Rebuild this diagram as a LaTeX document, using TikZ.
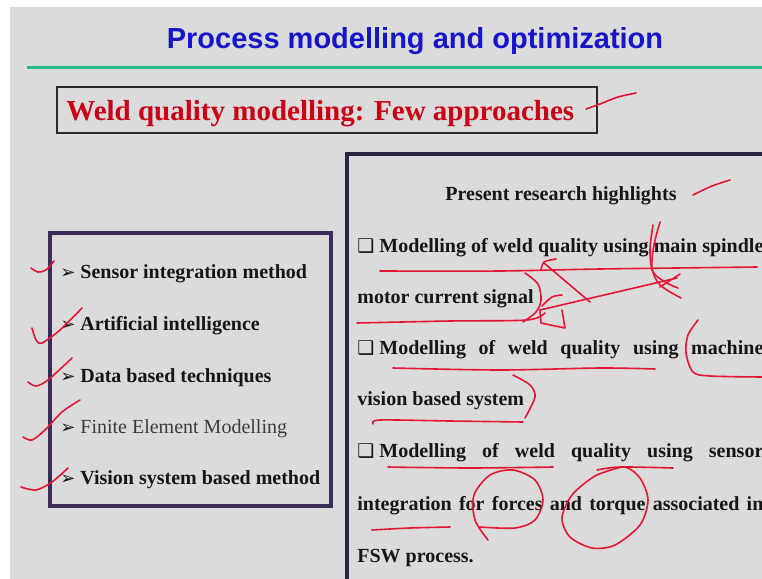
\documentclass[tikz,border=0pt]{standalone}
\usepackage{fontspec}
\setmainfont{Liberation Serif}
\newfontfamily\headfont{Liberation Sans}
\newfontfamily\glyphfont{DejaVu Sans}
\definecolor{slide}{RGB}{219,219,219}
\definecolor{hblue}{RGB}{22,22,200}
\definecolor{rule}{RGB}{40,186,132}
\definecolor{wred}{RGB}{200,0,22}
\definecolor{ink}{RGB}{22,22,22}
\definecolor{soft}{RGB}{60,60,60}
\definecolor{plum}{RGB}{58,44,88}
\definecolor{dplum}{RGB}{42,34,62}
\definecolor{pen}{RGB}{228,22,52}
\newcommand{\fHead}{\fontsize{14.5}{17}\selectfont}
\newcommand{\fBody}{\fontsize{10}{12}\selectfont}
\newcommand{\arr}{{\glyphfont\fontsize{9}{9}\selectfont ➢}}
\newcommand{\sq}{{\glyphfont\fontsize{9.5}{9.5}\selectfont ❑}}

\begin{document}
\begin{tikzpicture}[x=0.5pt,y=-0.5pt,
  txt/.style={anchor=base west,inner sep=0pt,font=\fBody\bfseries,text=ink},
  pen/.style={draw=pen,line width=0.8pt,line cap=round,line join=round}]
  \clip (0,0) rectangle (762,579);
  \fill[white] (0,0) rectangle (762,579);
  \fill[slide] (10,7) rectangle (762,579);
  % heading
  \node[anchor=base,inner sep=0pt,font=\headfont\fHead\bfseries,text=hblue] (title) at (415,48) {Process modelling and optimization};
  \draw[rule,line width=1.5pt] (27,67) -- (762,67);
  \draw[soft!70!black,line width=1.2pt] (57,87) rectangle (597,133);
  \node[anchor=base west,inner sep=0pt,font=\fHead\bfseries,text=wred] (weld) at (66,120) {Weld quality modelling: Few approaches};
  % left list
  \draw[plum,line width=1.7pt] (50,233) rectangle (331,506);
  \node[txt] (a1) at (60,278) {\arr};
  \node[txt] (s1) at (80,278) {Sensor integration method};
  \node[txt] (a2) at (60,330) {\arr};
  \node[txt] (s2) at (80,330) {Artificial intelligence};
  \node[txt] (a3) at (60,382) {\arr};
  \node[txt] (s3) at (80,382) {Data based techniques};
  \node[txt] (a4) at (60,433) {\arr};
  \node[txt,font=\fBody,text=soft] (s4) at (80,433) {Finite Element Modelling};
  \node[txt] (a5) at (60,484) {\arr};
  \node[txt] (s5) at (80,484) {Vision system based method};
  % right panel
  \draw[dplum,line width=1.8pt] (347,600) -- (347,154) -- (780,154);
  \node[anchor=base,inner sep=0pt,font=\fBody\bfseries,text=ink] (hl) at (561,200) {Present research highlights};
  \node[txt] (b1) at (357,252) {\sq};
  \node[txt] (r1) at (379,252) {\makebox[192pt][s]{Modelling of weld quality using main spindle}};
  \node[txt] (r2) at (357,303) {motor current signal};
  \node[txt] (b2) at (357,354) {\sq};
  \node[txt] (r3) at (379,354) {\makebox[192pt][s]{Modelling of weld quality using machine}};
  \node[txt] (r4) at (357,405) {vision based system};
  \node[txt] (b3) at (357,457) {\sq};
  \node[txt] (r5) at (379,457) {\makebox[192pt][s]{Modelling of weld quality using sensor}};
  \node[txt] (r6) at (357,510) {\makebox[203pt][s]{integration for forces and torque associated in}};
  \node[txt] (r7) at (357,562) {FSW process.};
  % pen marks
  \draw[pen] plot[smooth] coordinates {(586,109) (600,104) (618,97) (636,93)};
  \draw[pen] plot[smooth] coordinates {(693,195) (712,186) (730,180)};
  \draw[pen] plot[smooth] coordinates {(31,268) (38,272) (46,270) (54,261)};
  \draw[pen] plot[smooth] coordinates {(32,328) (36,340) (42,343) (60,330) (82,308)};
  \draw[pen] plot[smooth] coordinates {(28,382) (36,386) (48,380) (72,358)};
  \draw[pen] plot[smooth] coordinates {(23,437) (32,440) (45,430) (62,412) (80,400)};
  \draw[pen] plot[smooth] coordinates {(21,487) (36,490) (52,482) (68,468)};
  \draw[pen] plot[smooth] coordinates {(380,271) (500,271) (600,269) (757,267)};
  \draw[pen] plot[smooth] coordinates {(541,270) (544,262) (556,259)};
  \draw[pen] (544,263) -- (590,302);
  \draw[pen] plot[smooth] coordinates {(525,273) (538,284) (541,300) (536,312) (523,322)};
  \draw[pen] plot[smooth] coordinates {(357,323) (450,321) (527,320) (545,313)};
  \draw[pen] (540,310) -- (677,278);
  \draw[pen] plot[smooth] coordinates {(542,306) (552,297) (562,295)};
  \draw[pen] (540,310) -- (541,323) -- (565,328) -- (562,310);
  \draw[pen] plot[smooth] coordinates {(660,222) (654,245) (652,268) (660,285) (681,298)};
  \draw[pen] plot[smooth] coordinates {(653,225) (650,250) (653,272) (667,283) (678,288)};
  \draw[pen] (680,274) -- (660,287);
  \draw[pen] plot[smooth] coordinates {(393,368) (500,370) (600,368) (655,369)};
  \draw[pen] plot[smooth] coordinates {(698,320) (688,335) (686,353) (693,372) (710,376) (762,377)};
  \draw[pen] plot[smooth] coordinates {(513,375) (530,385) (535,397) (525,418)};
  \draw[pen] plot[smooth] coordinates {(373,424) (380,420) (450,421) (523,422)};
  \draw[pen] plot[smooth] coordinates {(388,467) (470,468) (553,467)};
  \draw[pen] plot[smooth] coordinates {(597,470) (620,467) (673,468)};
  \draw[pen] plot[smooth] coordinates {(372,530) (410,528) (450,527)};
  \draw[pen] plot[smooth] coordinates {(488,540) (475,520) (474,495) (490,475) (513,470) (535,480) (543,500) (535,520) (515,528) (480,527)};
  \draw[pen] plot[smooth] coordinates {(605,472) (625,467) (640,478) (648,500) (640,525) (615,545) (592,548) (570,537) (562,518) (572,495) (595,476) (618,468)};
\end{tikzpicture}
\end{document}
